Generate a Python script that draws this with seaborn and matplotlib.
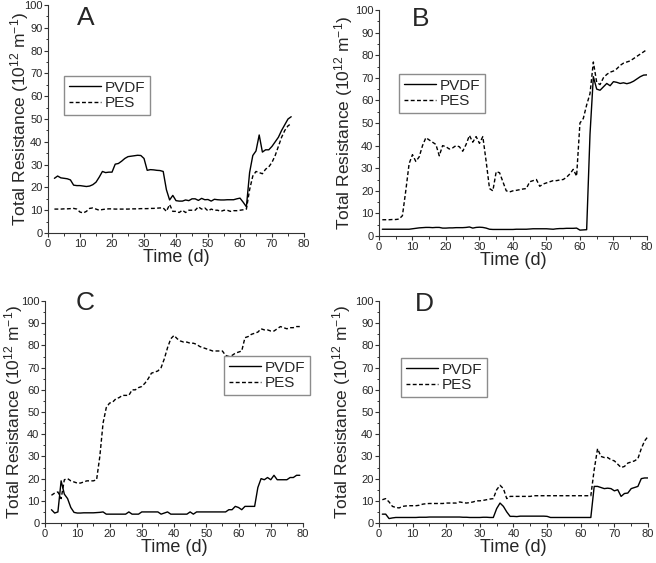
import matplotlib
matplotlib.use("Agg")
import matplotlib.pyplot as plt
from matplotlib.ticker import MultipleLocator
import numpy as np
import pandas as pd
import seaborn as sns

# ---- data (10^12 m^-1) ----
days_a = list(range(2, 77))
pvdf_a = [24, 25, 24.2, 24, 23.8, 23.3, 21, 20.8, 20.8, 20.6, 20.4, 20.6, 21.2, 22.3, 24.5,
          27, 26.5, 26.7, 26.7, 30.2, 30.5, 31.5, 32.7, 33.5, 33.7, 33.9, 34.1, 34, 32.7,
          27.5, 27.8, 27.7, 27.5, 27.4, 27, 19, 14.5, 16.5, 14.2, 14, 14, 14.5, 14.2, 15, 15,
          14.3, 15.2, 14.6, 14.7, 14, 14.8, 14.6, 14.5, 14.5, 14.6, 14.6, 14.6, 15, 15.3,
          13.5, 11.5, 26.5, 34, 36, 43, 35.5, 36.5, 36.5, 38, 40, 42, 45, 47.5, 50, 51]
pes_a = [10.5, 10.5, 10.5, 10.6, 10.6, 10.7, 10.8, 10.5, 9.2, 8.8, 9.5, 10.8, 11, 10.5, 10,
         10.3, 10.5, 10.6, 10.6, 10.5, 10.5, 10.5, 10.5, 10.5, 10.6, 10.6, 10.6, 10.7, 10.7,
         10.7, 10.8, 10.8, 10.9, 11, 11, 9.5, 12.5, 9.5, 9.5, 9, 10, 9, 10, 10, 10, 11.5, 10.5,
         11, 9.7, 10.5, 10, 10, 9.5, 10, 10, 9.5, 9.8, 9.8, 10, 10.2, 10.5, 19, 25, 27, 26.5,
         26, 28, 29, 31, 34, 38, 42, 45, 47, 48]

days_b = list(range(1, 81))
pvdf_b = [3, 3, 3, 3, 3, 3, 3, 3, 3, 3.2, 3.4, 3.6, 3.7, 3.8, 3.8, 3.7, 3.8, 3.8, 3.5, 3.5,
          3.6, 3.6, 3.7, 3.7, 3.7, 3.8, 4, 3.5, 3.8, 3.9, 3.8, 3.5, 3, 2.9, 2.9, 2.9, 2.9, 2.9,
          2.9, 2.9, 3, 3, 3, 3, 3.1, 3.2, 3.2, 3.2, 3.2, 3.2, 3.1, 3, 3.2, 3.3, 3.3, 3.4, 3.4,
          3.4, 3.5, 2.6, 2.7, 2.8, 45, 70.5, 65, 64.5, 66, 67.5, 66.5, 68.3, 68, 67.5, 67.8,
          67.4, 67.8, 68.5, 69.5, 70.5, 71.2, 71.3]
pes_b = [7.2, 7.2, 7.2, 7.3, 7.3, 7.5, 9, 20, 32, 36, 33, 35, 40, 43.5, 42.5, 41.5, 40.5, 35.5,
         40, 39.5, 38.5, 39, 40, 39.5, 37.5, 40.5, 44.5, 41.5, 44, 41, 44, 33, 21, 20, 28.5, 28,
         24, 20, 19.5, 20, 20.2, 20.5, 20.8, 21, 24, 24.5, 25, 22, 23, 23.5, 24, 24.5, 24.5,
         24.8, 25, 26, 27.5, 29.5, 26.5, 50, 52, 58, 63, 77, 68, 67, 70, 71.5, 72.5, 73, 74,
         75.5, 76.5, 77, 77.5, 78.5, 79.5, 80.5, 81.5, 82.5]

days_c = list(range(2, 80))
pvdf_c = [6, 4.5, 5, 19, 13, 11, 7, 4.8, 4.5, 4.5, 4.6, 4.6, 4.6, 4.6, 4.7, 4.8, 5, 4, 4, 4, 4,
          4, 4, 4, 5, 4, 4, 4, 5, 5, 5, 5, 5, 5, 4, 4.5, 5, 4, 4, 4, 4, 4, 4, 5, 4, 5, 5, 5, 5,
          5, 5, 5, 5, 5, 5, 6, 6, 7.5, 7, 6, 7.5, 7.5, 7.5, 7.5, 16, 20, 19.5, 20.5, 19.5, 21.5,
          19.5, 19.5, 19.5, 19.5, 20.5, 20.5, 21.5, 21.5]
pes_c = [12.5, 13.5, 14, 11, 19.5, 20, 19, 18.5, 18, 18, 18.5, 19, 19, 19, 19.5, 30, 45, 52,
         54, 54.5, 56, 56.5, 57.5, 57.5, 57.5, 60, 60, 61, 61.5, 63, 65, 67.5, 68, 68.5, 70,
         74, 79, 83, 84.5, 83, 82, 81.5, 81.5, 81, 81, 80.5, 79.5, 79, 78.5, 78, 77.5, 77.5,
         77.5, 77.5, 75.5, 75, 75.5, 76.5, 77, 77.5, 83.5, 84, 85, 85.5, 86, 87.5, 87, 87,
         86.5, 86.5, 87.5, 88.5, 88, 87.5, 88, 88, 88.5, 88.5]

days_d = list(range(1, 81))
pvdf_d = [4, 4, 2, 2.3, 2.5, 2.5, 2.5, 2.5, 2.5, 2.5, 2.5, 2.6, 2.6, 2.6, 2.7, 2.7, 2.7, 2.7,
          2.7, 2.7, 2.7, 2.7, 2.7, 2.7, 2.6, 2.6, 2.5, 2.5, 2.5, 2.5, 2.6, 2.6, 2.5, 2.5, 6.5,
          9, 7.5, 5, 3, 3, 2.9, 3.1, 3.1, 3.1, 3.1, 3.1, 3.1, 3.1, 3.1, 3, 2.5, 2.5, 2.5, 2.5,
          2.5, 2.5, 2.5, 2.5, 2.5, 2.5, 2.5, 2.5, 2.5, 16.5, 16.5, 16, 15.5, 15.7, 15.5, 14.5,
          15, 12, 13.3, 13.5, 15.5, 16, 16.5, 20, 20.3, 20.3]
pes_d = [10.5, 11, 9.5, 7.5, 7, 6.8, 7.5, 7.7, 7.8, 7.8, 7.8, 8, 8.5, 8.7, 8.8, 8.8, 8.8, 8.8,
         8.8, 9, 9, 9, 9, 9.5, 9.2, 9, 9.2, 9.5, 10, 10, 10.2, 10.5, 10.8, 11, 15, 17, 15.5, 11,
         12, 12, 12, 12, 12, 12, 12, 12.3, 12.3, 12.3, 12.3, 12.3, 12.3, 12.3, 12.3, 12.3, 12.3,
         12.3, 12.3, 12.3, 12.3, 12.3, 12.3, 12.3, 12.3, 24, 33.5, 30, 29.5, 29.5, 28.5, 28,
         26.5, 25, 25.5, 27, 27.5, 28, 29, 33.5, 37, 39]

panel_letters = ["A", "B", "C", "D"]
series_names = ["PVDF", "PES"]

sns.set_style("ticks")
plt.rcParams["font.family"] = ["Liberation Sans", "DejaVu Sans"]
plt.rcParams["mathtext.default"] = "regular"

fig = plt.figure(figsize=(6.56, 5.63), dpi=100)
ax_a = fig.add_axes([0.0732, 0.5861, 0.3902, 0.4050])
ax_b = fig.add_axes([0.5777, 0.5808, 0.4085, 0.4014])
ax_c = fig.add_axes([0.0686, 0.0710, 0.3933, 0.3943])
ax_d = fig.add_axes([0.5777, 0.0710, 0.4101, 0.3943])

# axes, data, letter position, legend anchor, y-label x (axes fraction)
panels = [
    (ax_a, days_a, pvdf_a, pes_a, (0.113, 0.995), (0.0625, 0.689), -0.065),
    (ax_b, days_b, pvdf_b, pes_b, (0.123, 1.015), (0.075, 0.717), -0.090),
    (ax_c, days_c, pvdf_c, pes_c, (0.120, 1.045), (0.694, 0.752), -0.078),
    (ax_d, days_d, pvdf_d, pes_d, (0.134, 1.040), (0.082, 0.743), -0.095),
]

for (ax, days, pvdf, pes, letter_pos, leg_pos, ylab_x), letter in zip(panels, panel_letters):
    df = pd.DataFrame({"day": days, "PVDF": pvdf, "PES": pes})
    sns.lineplot(data=df, x="day", y="PVDF", ax=ax, color="black", lw=1.0,
                 label=series_names[0])
    sns.lineplot(data=df, x="day", y="PES", ax=ax, color="black", lw=1.0,
                 label=series_names[1])
    ax.lines[1].set_dashes((2.8, 1.7))

    ax.set_xlim(0, 80)
    ax.set_ylim(0, 100)
    ax.xaxis.set_major_locator(MultipleLocator(10))
    ax.xaxis.set_minor_locator(MultipleLocator(5))
    ax.yaxis.set_major_locator(MultipleLocator(10))
    ax.yaxis.set_minor_locator(MultipleLocator(5))
    ax.tick_params(which="major", direction="out", length=3, width=0.8,
                   labelsize=8, pad=1, color="#333333")
    ax.tick_params(which="minor", direction="out", length=1.8, width=0.7, color="#333333")
    for s in ["left", "bottom"]:
        ax.spines[s].set_linewidth(0.8)
        ax.spines[s].set_color("#333333")
    sns.despine(ax=ax)

    ax.set_xlabel("Time (d)", fontsize=13, labelpad=0)
    ax.set_ylabel("Total Resistance (10$^{12}$ m$^{-1}$)", fontsize=12.5)
    ax.yaxis.set_label_coords(ylab_x, 0.5)

    ax.text(letter_pos[0], letter_pos[1], letter, transform=ax.transAxes,
            fontsize=19, va="top", ha="left")

    leg = ax.legend(loc="upper left", bbox_to_anchor=leg_pos, borderaxespad=0,
                    fontsize=11, handlelength=2.1, handletextpad=0.25,
                    borderpad=0.3, labelspacing=0.1, fancybox=False, framealpha=1)
    leg.get_frame().set_edgecolor("#8c8c8c")
    leg.get_frame().set_linewidth(1.0)

fig.savefig("out.png", dpi=100)
